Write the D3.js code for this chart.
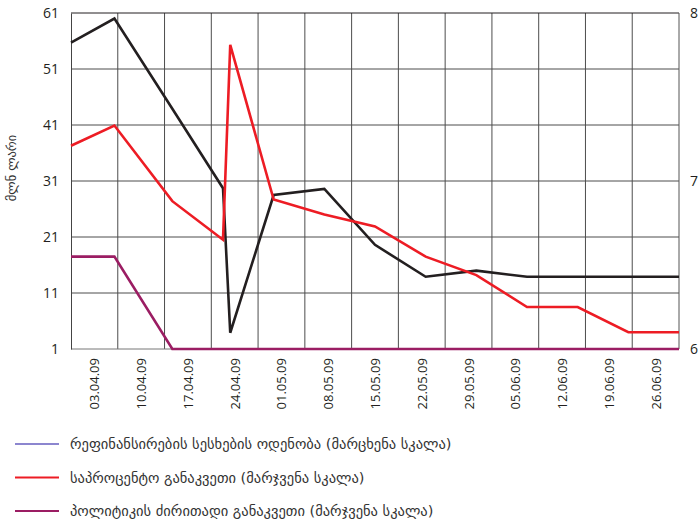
<!DOCTYPE html>
<html>
<head>
<meta charset="utf-8">
<script src="https://cdn.jsdelivr.net/npm/d3@7"></script>
<style>
  html, body { margin: 0; padding: 0; background: #fff; }
  svg { display: block; }
  .tick-label { font-family: "Open Sans", "DejaVu Sans", sans-serif; fill: #231f20; }
  .geo { font-family: "DejaVu Sans", sans-serif; fill: #333; }
</style>
</head>
<body>
<svg id="chart" width="698" height="522"></svg>
<script>
// Weekly observation dates (two readings around the late-April jump)
const dates = ["03.04.09","09.04.09","17.04.09","24.04.09","25.04.09","01.05.09","08.05.09",
               "15.05.09","22.05.09","29.05.09","05.06.09","12.06.09","19.06.09","26.06.09"];

// Refinancing loans volume, mln GEL (left scale)
const refinancingVolume = [55.7, 60.0, 43.9, 29.7, 3.9, 28.5, 29.6, 19.6, 13.9, 15.0, 13.9, 13.9, 13.9, 13.9];
// Interest rate, % (right scale)
const interestRate = [7.21, 7.33, 6.88, 6.65, 7.81, 6.89, 6.80, 6.73, 6.55, 6.44, 6.25, 6.25, 6.10, 6.10];
// Monetary policy rate, % (right scale)
const policyRate = [6.55, 6.55, 6.0, 6.0, 6.0, 6.0, 6.0, 6.0, 6.0, 6.0, 6.0, 6.0, 6.0, 6.0];

// Category labels along the bottom
const weekLabels = ["03.04.09","10.04.09","17.04.09","24.04.09","01.05.09","08.05.09","15.05.09",
                    "22.05.09","29.05.09","05.06.09","12.06.09","19.06.09","26.06.09"];

const leftTicks = [1, 11, 21, 31, 41, 51, 61];
const rightTicks = [6, 7, 8];

const legendItems = [
  { label: "რეფინანსირების სესხების ოდენობა (მარცხენა სკალა)", color: "#8c86cf" },
  { label: "საპროცენტო განაკვეთი (მარჯვენა სკალა)", color: "#ed1c24" },
  { label: "პოლიტიკის ძირითადი განაკვეთი (მარჯვენა სკალა)", color: "#9b1d63" }
];

const plot = { left: 71, right: 679, top: 13, bottom: 349 };
const parse = d3.timeParse("%d.%m.%y");
const svg = d3.select("#chart");

const x = d3.scaleTime()
  .domain(d3.extent(dates, parse))
  .range([plot.left, plot.right]);
const xBand = d3.scaleBand().domain(weekLabels).range([plot.left, plot.right]);
const yLeft = d3.scaleLinear().domain([1, 61]).range([plot.bottom, plot.top]);
const yRight = d3.scaleLinear().domain([6, 8]).range([plot.bottom, plot.top]);

// Grid
const grid = svg.append("g");
grid.selectAll("line.h").data(leftTicks.slice(1, -1)).join("line")
  .attr("x1", plot.left).attr("x2", plot.right)
  .attr("y1", d => yLeft(d)).attr("y2", d => yLeft(d))
  .attr("stroke", "#4d4d4d").attr("stroke-width", 1);
const bandEdges = weekLabels.map(d => xBand(d)).slice(1);
grid.selectAll("line.v").data(bandEdges).join("line")
  .attr("x1", d => d).attr("x2", d => d)
  .attr("y1", plot.top).attr("y2", plot.bottom)
  .attr("stroke", "#4d4d4d").attr("stroke-width", 1);

// Frame
svg.append("line").attr("x1", plot.left).attr("x2", plot.right)
  .attr("y1", plot.top).attr("y2", plot.top).attr("stroke", "#231f20");
svg.append("line").attr("x1", plot.right).attr("x2", plot.right)
  .attr("y1", plot.top).attr("y2", plot.bottom).attr("stroke", "#555");
svg.append("line").attr("x1", plot.left).attr("x2", plot.right)
  .attr("y1", plot.bottom).attr("y2", plot.bottom).attr("stroke", "#777");

// Left axis
const axL = svg.append("g").attr("transform", `translate(${plot.left},0)`)
  .call(d3.axisLeft(yLeft).tickValues(leftTicks).tickSize(0).tickPadding(12));
axL.select(".domain").attr("stroke", "#444");
axL.selectAll("text").attr("class", "tick-label").style("font-size", "14px");

// Right axis
const axR = svg.append("g").attr("transform", `translate(${plot.right},0)`)
  .call(d3.axisRight(yRight).tickValues(rightTicks).tickSize(0).tickPadding(11).tickFormat(d3.format("d")));
axR.select(".domain").remove();
axR.selectAll("text").attr("class", "tick-label").style("font-size", "14px");

// Bottom category labels, rotated
svg.append("g").selectAll("text").data(weekLabels).join("text")
  .attr("class", "tick-label")
  .style("font-size", "13px")
  .attr("text-anchor", "end")
  .attr("dominant-baseline", "central")
  .attr("transform", d => `translate(${xBand(d) + xBand.bandwidth() / 2},${plot.bottom + 9}) rotate(-90)`)
  .text(d => d);

// Y axis title
svg.append("text").attr("class", "geo")
  .style("font-size", "12.5px")
  .attr("text-anchor", "middle")
  .attr("transform", `translate(16,168) rotate(-90)`)
  .text("მლნ ლარი");

// Series
const pts = dates.map(parse);
const lineL = d3.line().x((d, i) => x(pts[i])).y(d => yLeft(d));
const lineR = d3.line().x((d, i) => x(pts[i])).y(d => yRight(d));

svg.append("path").datum(refinancingVolume).attr("d", lineL)
  .attr("fill", "none").attr("stroke", "#231f20").attr("stroke-width", 2.6).attr("stroke-linejoin", "miter");
svg.append("path").datum(interestRate).attr("d", lineR)
  .attr("fill", "none").attr("stroke", "#ed1c24").attr("stroke-width", 2.6).attr("stroke-linejoin", "miter");
svg.append("path").datum(policyRate).attr("d", lineR)
  .attr("fill", "none").attr("stroke", "#9b1d63").attr("stroke-width", 2.6).attr("stroke-linejoin", "miter");

// Legend
const lg = svg.append("g").selectAll("g").data(legendItems).join("g")
  .attr("transform", (d, i) => `translate(0,${444 + i * 33.5})`);
lg.append("line").attr("x1", 15).attr("x2", 59).attr("y1", 0).attr("y2", 0)
  .attr("stroke", d => d.color).attr("stroke-width", 2.2);
lg.append("text").attr("class", "geo")
  .style("font-size", "14.5px")
  .attr("x", 70).attr("dominant-baseline", "central")
  .text(d => d.label);
</script>
</body>
</html>
